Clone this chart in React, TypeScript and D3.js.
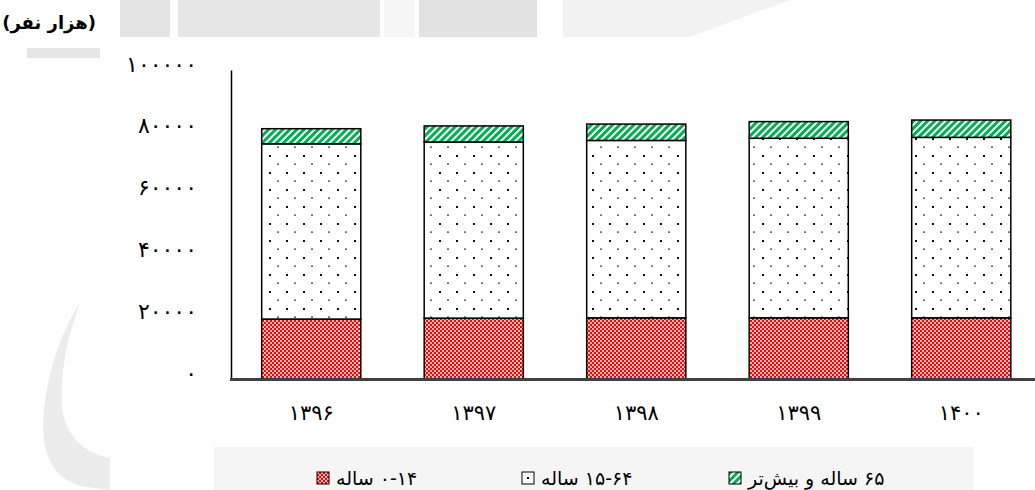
import { useEffect, useRef } from "react";
import * as d3 from "d3";

// population by age group (thousand persons)
const years = ["1396", "1397", "1398", "1399", "1400"];
const age0to14 = [19400, 19700, 19800, 19800, 19800];
const age15to64 = [56700, 57000, 57400, 58100, 58400];
const age65plus = [4900, 5200, 5300, 5400, 5600];
const yTicks = [0, 20000, 40000, 60000, 80000, 100000];
const seriesNames = ["۰-۱۴ ساله", "۱۵-۶۴ ساله", "۶۵ ساله و بیش\u200cتر"];
const unitLabel = "(هزار نفر)";

const faDigits = "۰۱۲۳۴۵۶۷۸۹";
const toFa = (v: any) => String(v).replace(/\d/g, (d) => faDigits[+d]);

const FONT = "'DejaVu Sans', sans-serif";

export default function App() {
  const svgRef = useRef<SVGSVGElement>(null);

  useEffect(() => {
    const svg = d3.select(svgRef.current);
    svg.selectAll("*").remove();

    const width = 1035;
    const height = 490;
    const left = 230;
    const step = 162.5;

    svg.attr("width", width).attr("height", height);

    // patterns
    const defs = svg.append("defs");
    const chk = defs.append("pattern").attr("id", "pChecker")
      .attr("patternUnits", "userSpaceOnUse").attr("width", 4).attr("height", 4);
    chk.append("rect").attr("width", 4).attr("height", 4).attr("fill", "#ff0000");
    chk.append("rect").attr("width", 2).attr("height", 2).attr("fill", "#ffc0c0");
    chk.append("rect").attr("x", 2).attr("y", 2).attr("width", 2).attr("height", 2).attr("fill", "#ffc0c0");

    const dots = defs.append("pattern").attr("id", "pDots")
      .attr("patternUnits", "userSpaceOnUse").attr("width", 17).attr("height", 17)
      .attr("x", 14).attr("y", 2);
    dots.append("rect").attr("width", 17).attr("height", 17).attr("fill", "#fff");
    dots.append("rect").attr("width", 2).attr("height", 2).attr("fill", "#111");
    dots.append("rect").attr("x", 8).attr("y", 8.5).attr("width", 2).attr("height", 1.2).attr("fill", "#333");

    const stripes = defs.append("pattern").attr("id", "pStripes")
      .attr("patternUnits", "userSpaceOnUse").attr("width", 5).attr("height", 5)
      .attr("patternTransform", "rotate(45)");
    stripes.append("rect").attr("width", 5).attr("height", 5).attr("fill", "#fff");
    stripes.append("rect").attr("width", 3).attr("height", 5).attr("fill", "#00b050");

    const fills = ["url(#pChecker)", "url(#pDots)", "url(#pStripes)"];

    // faint watermark in the background
    const wm = svg.append("g");
    wm.append("rect").attr("x", 120).attr("y", 0).attr("width", 50).attr("height", 37).attr("fill", "#e4e4e4");
    wm.append("rect").attr("x", 178).attr("y", 0).attr("width", 202).attr("height", 37).attr("fill", "#e6e6e6");
    wm.append("rect").attr("x", 384).attr("y", 0).attr("width", 30).attr("height", 37).attr("fill", "#f6f6f6");
    wm.append("rect").attr("x", 419).attr("y", 0).attr("width", 118).attr("height", 37).attr("fill", "#e2e2e2");
    wm.append("path").attr("d", "M563,0 L790,0 L690,37 L563,37 Z").attr("fill", "#f2f2f2");
    wm.append("rect").attr("x", 27).attr("y", 48).attr("width", 73).attr("height", 10).attr("fill", "#e6e6e6");
    wm.append("path")
      .attr("d", "M80,303 C62,330 48,370 44,410 C40,450 50,476 80,486 L110,490 L110,458 C80,452 64,432 62,405 C60,370 68,335 80,303 Z")
      .attr("fill", "#ececec");

    // scales
    const x = d3.scaleBand()
      .domain(years)
      .range([left, left + step * years.length])
      .paddingInner(0.39)
      .paddingOuter(0.195);

    const y = d3.scaleLinear().domain([0, 100000]).range([379, 70]);

    const table = years.map((yr, i) => ({
      year: yr,
      a: age0to14[i],
      b: age15to64[i],
      c: age65plus[i],
    }));
    const stacked = d3.stack<any>().keys(["a", "b", "c"])(table);

    // bars
    stacked.forEach((layer, li) => {
      svg.append("g").selectAll("rect")
        .data(layer)
        .enter()
        .append("rect")
        .attr("x", (d: any) => x(d.data.year)!)
        .attr("y", (d) => y(d[1]))
        .attr("width", x.bandwidth())
        .attr("height", (d) => y(d[0]) - y(d[1]))
        .attr("fill", fills[li])
        .attr("stroke", "#000")
        .attr("stroke-width", 1.5);
    });

    // y axis
    const yAxis = svg.append("g")
      .attr("transform", `translate(${left + 1},0)`)
      .call(d3.axisLeft(y).tickValues(yTicks).tickSize(0).tickPadding(34).tickFormat(toFa));
    yAxis.select(".domain").attr("stroke", "#000").attr("stroke-width", 1.5);
    yAxis.selectAll("text")
      .attr("font-family", FONT)
      .attr("font-size", 22)
      .attr("fill", "#000")
      .attr("dy", "0.05em");

    // x axis
    const xAxis = svg.append("g")
      .attr("transform", "translate(0,379)")
      .call(d3.axisBottom(x).tickSize(0).tickPadding(26).tickFormat(toFa));
    xAxis.select(".domain").remove();
    xAxis.selectAll("text")
      .attr("font-family", FONT)
      .attr("font-size", 21)
      .attr("fill", "#000");

    // baseline
    svg.append("line")
      .attr("x1", left).attr("x2", width)
      .attr("y1", 379.5).attr("y2", 379.5)
      .attr("stroke", "#404040").attr("stroke-width", 3);

    // unit label
    svg.append("text")
      .attr("x", 96).attr("y", 29)
      .attr("direction", "rtl")
      .attr("text-anchor", "start")
      .attr("font-family", FONT)
      .attr("font-size", 18)
      .attr("font-weight", "bold")
      .text(unitLabel);

    // legend
    const legend = svg.append("g");
    legend.append("rect")
      .attr("x", 214).attr("y", 447).attr("width", 759).attr("height", 43)
      .attr("fill", "#f5f5f5");
    const swatchX = [317, 522, 729];
    seriesNames.forEach((name, i) => {
      const g = legend.append("g").attr("transform", `translate(${swatchX[i]},472)`);
      if (i === 1) {
        g.append("rect").attr("width", 12).attr("height", 12).attr("fill", "#fff")
          .attr("stroke", "#000").attr("stroke-width", 1);
        g.append("rect").attr("x", 5).attr("y", 5).attr("width", 2).attr("height", 2).attr("fill", "#000");
      } else {
        g.append("rect").attr("width", 12).attr("height", 12).attr("fill", fills[i])
          .attr("stroke", "#000").attr("stroke-width", 1);
      }
      g.append("text")
        .attr("x", 19).attr("y", 13)
        .attr("direction", "rtl")
        .attr("text-anchor", "end")
        .attr("font-family", FONT)
        .attr("font-size", 19)
        .attr("fill", "#000")
        .text(name);
    });
  }, []);

  return <svg ref={svgRef} style={{ position: "absolute", left: 0, top: 0, background: "#fff" }} />;
}
